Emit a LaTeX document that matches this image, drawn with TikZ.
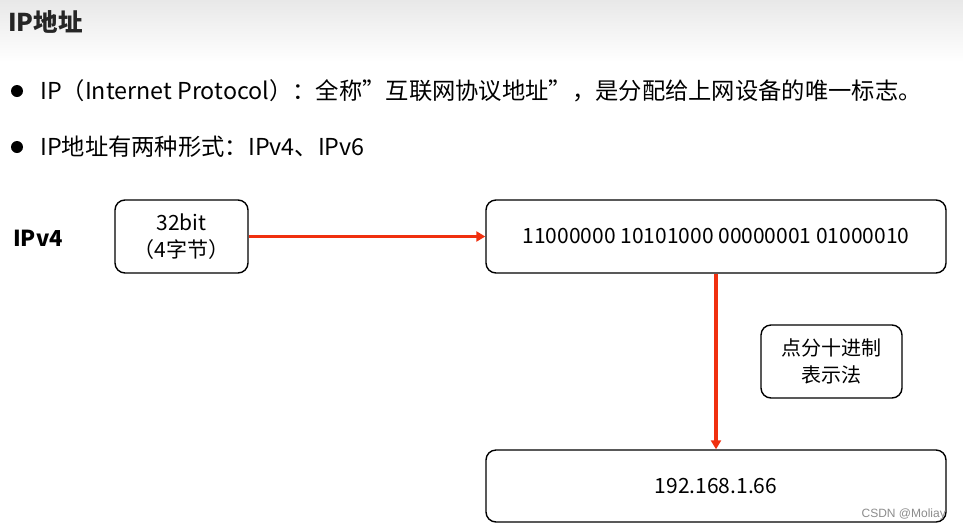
\documentclass[tikz,border=0pt]{standalone}
\usepackage{fontspec}
\setmainfont{Noto Sans CJK SC}
\newfontfamily\wmfont{Liberation Sans}
\usetikzlibrary{arrows.meta}
\definecolor{linkred}{HTML}{F0300F}
\begin{document}
\begin{tikzpicture}[x=1pt,y=-1pt]
  \tikzstyle{box}=[draw=black, line width=1.4pt, rounded corners=10pt, align=center, inner sep=0pt, font=\fontsize{21}{27}\selectfont]
  \tikzstyle{link}=[draw=linkred, line width=3.2pt, -{Triangle[length=9pt,width=10pt]}]
  \tikzstyle{dot}=[circle, fill=black, minimum size=12pt, inner sep=0pt]
  \tikzstyle{item}=[anchor=west, inner sep=0pt, font=\fontsize{23.3}{26}\selectfont]
  \useasboundingbox (0,0) rectangle (963,531);
  % title bar
  \shade[top color=black!9, bottom color=white] (0,0) rectangle (963,62);
  \node[anchor=west, inner sep=0pt, font=\bfseries\fontsize{24.5}{28}\selectfont, text=black!85] (title) at (8,22) {IP地址};
  % bullets
  \node[dot] (b1) at (17,91) {};
  \node[item] (t1) at (40,91) {IP（Internet Protocol）：全称”互联网协议地址”，是分配给上网设备的唯一标志。};
  \node[dot] (b2) at (17,147) {};
  \node[item] (t2) at (40,147) {IP地址有两种形式：IPv4、IPv6};
  % diagram
  \node[font=\bfseries\fontsize{22}{26}\selectfont] (v4) at (38,238) {IPv4};
  \node[box, minimum width=133pt, minimum height=73pt] (bits) at (181.5,236.5) {32bit\\（4字节）};
  \node[box, minimum width=460pt, minimum height=73pt] (bin) at (716,236.5) {11000000 10101000 00000001 01000010};
  \node[box, minimum width=141pt, minimum height=73pt, font=\fontsize{20}{27}\selectfont] (note) at (831.5,361.5) {点分十进制\\表示法};
  \node[box, minimum width=460pt, minimum height=72pt] (dec) at (716,486) {192.168.1.66};
  \draw[link] (bits.east) -- (bin.west);
  \draw[link] (bin.south) -- (dec.north);
  % watermark
  \node[anchor=east, inner sep=0pt, text=black!45, font=\wmfont\fontsize{12}{12}\selectfont] (wm) at (946,514) {CSDN @Moliay};
\end{tikzpicture}
\end{document}
